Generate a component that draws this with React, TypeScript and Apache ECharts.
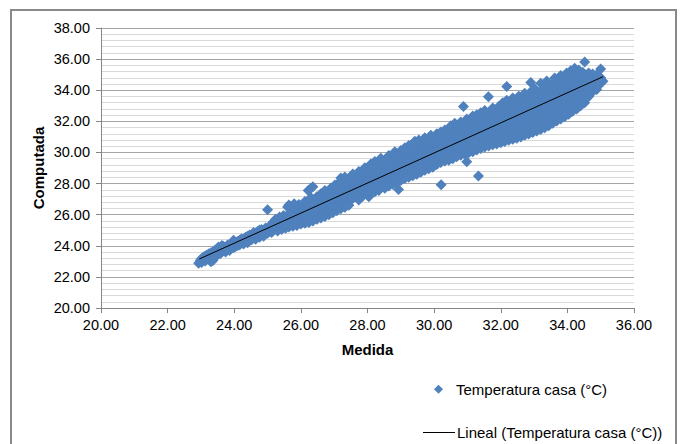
import { useEffect, useRef } from "react";
import * as echarts from "echarts";

const seriesName = "Temperatura casa (°C)";
const trendName = "Lineal (Temperatura casa (°C))";
const xTitle = "Medida";
const yTitle = "Computada";

// Each row: [Medida, Computada, Computada, ...]
const band1: number[][] = [
  [22.93, 22.88],
  [22.98, 23.05],
  [23.02, 22.92, 23.18],
  [23.08, 23.1, 23.28],
  [23.13, 23.02, 23.35],
  [23.18, 23.22, 23.4],
  [23.24, 23.15, 23.48],
  [23.3, 23.38, 23.55],
  [23.36, 23.05, 23.3, 23.62],
  [23.42, 23.45, 23.72],
  [23.48, 23.38, 23.8],
  [23.53, 23.55, 23.92],
  [23.58, 23.48, 23.7],
  [23.63, 23.62, 23.85, 24.02],
  [23.68, 23.74, 23.95],
  [23.74, 23.6, 23.88],
  [23.8, 23.82, 24.05],
  [23.86, 23.7, 23.98],
  [23.92, 23.9, 24.12],
  [23.98, 23.88, 24.05, 24.35],
  [24.04, 23.95, 24.2],
  [24.1, 24.02, 24.28],
  [24.16, 24.05, 24.35],
  [24.22, 24.22, 24.45],
  [24.28, 24.12, 24.4],
  [24.34, 24.3, 24.55],
  [24.4, 24.2, 24.62],
  [24.46, 24.48, 24.7],
  [24.52, 24.38, 24.62],
  [24.58, 24.55, 24.85],
  [24.64, 24.42, 24.78],
  [24.7, 24.62, 24.92],
  [24.76, 24.55, 24.88, 25.02],
  [24.82, 24.75, 25.05],
  [24.88, 24.62, 24.98],
  [24.94, 24.85, 25.15],
  [25.0, 24.8, 25.08],
  [25.06, 24.95, 25.25],
  [25.12, 24.85, 25.1, 25.4],
];

const band2: number[][] = [
  [25.18, 25.0, 25.3, 25.55],
  [25.24, 25.18, 25.45, 25.7],
  [25.3, 24.95, 25.25, 25.55],
  [25.36, 25.2, 25.5, 25.85],
  [25.42, 25.05, 25.32, 25.62],
  [25.48, 25.28, 25.58, 25.95],
  [25.54, 25.12, 25.42, 25.72],
  [25.6, 25.35, 25.65, 25.98, 26.5],
  [25.64, 25.2, 25.5, 25.8, 26.62],
  [25.7, 25.45, 25.75, 26.1, 26.38],
  [25.76, 25.25, 25.55, 25.88, 26.2],
  [25.8, 26.7],
  [25.82, 25.5, 25.82, 26.15, 26.48],
  [25.88, 25.3, 25.62, 25.95, 26.28],
  [25.94, 25.58, 25.9, 26.22, 26.65],
  [26.0, 25.4, 25.72, 26.05, 26.38],
  [26.06, 25.65, 25.98, 26.3, 26.6],
  [26.12, 25.45, 25.78, 26.1, 26.45, 26.85],
  [26.18, 25.75, 26.08, 26.4, 26.7],
  [26.24, 25.5, 25.85, 26.18, 26.52],
  [26.3, 25.82, 26.15, 26.48, 26.8, 27.1],
  [26.36, 25.6, 25.95, 26.28, 26.62],
  [26.42, 25.9, 26.22, 26.55, 26.9],
  [26.48, 25.7, 26.05, 26.4, 26.75, 27.15],
  [26.54, 26.0, 26.35, 26.7, 27.02],
  [26.6, 25.78, 26.12, 26.48, 26.85, 27.35],
  [26.66, 26.1, 26.45, 26.8, 27.15],
  [26.72, 25.88, 26.22, 26.58, 26.95, 27.3, 27.55],
  [26.78, 26.22, 26.58, 26.92, 27.28],
  [26.84, 26.0, 26.35, 26.7, 27.05, 27.42],
  [26.9, 26.32, 26.68, 27.02, 27.38, 27.72],
  [26.96, 26.12, 26.48, 26.82, 27.18, 27.52],
  [27.02, 26.45, 26.8, 27.15, 27.5, 27.9],
  [27.08, 26.25, 26.6, 26.95, 27.3, 27.65],
  [27.14, 26.58, 26.92, 27.28, 27.62, 28.05],
  [27.2, 26.38, 26.72, 27.08, 27.45, 27.82, 28.35],
  [27.26, 26.7, 27.05, 27.4, 27.75, 28.1],
  [27.32, 26.48, 26.82, 27.18, 27.55, 27.92, 28.42],
  [27.38, 26.8, 27.15, 27.5, 27.85, 28.2],
  [27.44, 26.6, 26.95, 27.3, 27.68, 28.05, 28.3],
];

const band3: number[][] = [
  [27.5, 26.95, 27.3, 27.68, 28.05, 28.45],
  [27.56, 27.05, 27.42, 27.78, 28.12, 28.62],
  [27.62, 27.22, 27.55, 27.9, 28.2],
  [27.68, 27.15, 27.5, 27.85, 28.22],
  [27.74, 26.95, 27.3, 27.65, 28.0, 28.35, 28.78],
  [27.8, 27.35, 27.7, 28.05, 28.4],
  [27.86, 27.2, 27.55, 27.92, 28.28, 28.6],
  [27.92, 27.5, 27.85, 28.2, 28.55, 29.02],
  [27.98, 27.32, 27.68, 28.02, 28.4],
  [28.04, 27.15, 27.45, 27.8, 28.18, 28.55, 28.9],
  [28.1, 27.6, 27.95, 28.3, 28.65, 29.25],
  [28.16, 27.55, 27.92, 28.28, 28.65],
  [28.22, 27.48, 27.88, 28.22, 28.58, 28.98, 29.42],
  [28.28, 27.75, 28.1, 28.45, 28.8],
  [28.34, 27.55, 27.9, 28.28, 28.65, 29.05],
  [28.4, 27.82, 28.18, 28.55, 28.92, 29.3, 29.62],
  [28.46, 27.95, 28.3, 28.65, 29.0],
  [28.52, 27.7, 28.05, 28.42, 28.8, 29.18, 29.48],
  [28.58, 27.98, 28.35, 28.7, 29.05],
  [28.64, 27.85, 28.2, 28.55, 28.92, 29.3, 29.8],
  [28.7, 28.1, 28.45, 28.82, 29.2, 29.5],
  [28.76, 27.95, 28.3, 28.68, 29.05, 29.42],
  [28.82, 28.2, 28.55, 28.9, 29.28, 29.65, 30.05],
  [28.88, 28.05, 28.4, 28.78, 29.15, 29.48],
  [28.94, 28.35, 28.7, 29.08, 29.45, 29.85],
  [29.0, 28.2, 28.55, 28.92, 29.3, 29.68, 30.12],
  [29.06, 28.45, 28.82, 29.2, 29.55],
  [29.12, 28.32, 28.68, 29.05, 29.42, 29.8, 30.3],
  [29.18, 28.55, 28.9, 29.28, 29.65, 30.0],
  [29.24, 28.4, 28.78, 29.15, 29.52, 29.9, 30.45],
  [29.3, 28.68, 29.05, 29.42, 29.8, 30.15],
  [29.36, 28.5, 28.88, 29.25, 29.62, 30.0, 30.38],
  [29.42, 28.8, 29.15, 29.52, 29.9, 30.25, 30.72],
  [29.48, 28.6, 28.98, 29.35, 29.72, 30.1],
  [29.54, 28.9, 29.28, 29.65, 30.02, 30.4, 30.8],
  [29.6, 28.72, 29.1, 29.48, 29.85, 30.22],
  [29.66, 29.05, 29.42, 29.8, 30.18, 30.55],
  [29.72, 28.85, 29.22, 29.6, 29.98, 30.35, 30.95],
  [29.78, 29.15, 29.52, 29.9, 30.28, 30.62],
  [29.84, 28.95, 29.32, 29.7, 30.08, 30.45, 30.82],
  [29.9, 29.3, 29.68, 30.05, 30.42, 31.1],
  [29.96, 29.05, 29.42, 29.8, 30.18, 30.55, 30.9],
];

const band4: number[][] = [
  [30.02, 29.4, 29.78, 30.15, 30.52, 30.88],
  [30.08, 29.22, 29.6, 29.98, 30.35, 30.72, 31.2],
  [30.14, 29.55, 29.92, 30.3, 30.68, 31.0],
  [30.2, 29.35, 29.72, 30.1, 30.48, 30.85, 31.32],
  [30.26, 29.62, 30.0, 30.38, 30.75, 31.1],
  [30.32, 29.45, 29.82, 30.2, 30.58, 30.95, 31.45],
  [30.38, 29.75, 30.12, 30.5, 30.88, 31.22],
  [30.44, 29.5, 29.88, 30.25, 30.62, 31.0, 31.38],
  [30.5, 29.8, 30.18, 30.55, 30.92, 31.3, 31.72],
  [30.56, 29.6, 29.98, 30.35, 30.72, 31.1],
  [30.62, 29.92, 30.3, 30.68, 31.05, 31.42, 31.88],
  [30.68, 29.72, 30.1, 30.48, 30.85, 31.22, 31.55],
  [30.74, 30.05, 30.42, 30.8, 31.18, 31.55],
  [30.8, 29.82, 30.2, 30.58, 30.95, 31.32, 31.95],
  [30.86, 30.12, 30.5, 30.88, 31.25, 31.62],
  [30.92, 29.9, 30.28, 30.65, 31.02, 31.4, 31.8],
  [30.98, 30.22, 30.6, 30.98, 31.35, 31.72, 32.15],
  [31.04, 29.98, 30.35, 30.72, 31.1, 31.48],
  [31.1, 30.3, 30.68, 31.05, 31.42, 31.8, 32.05],
  [31.16, 30.05, 30.42, 30.8, 31.18, 31.55, 32.35],
  [31.22, 30.4, 30.78, 31.15, 31.52, 31.9],
  [31.28, 30.15, 30.52, 30.9, 31.28, 31.65, 32.02, 32.42],
  [31.34, 30.5, 30.88, 31.25, 31.62, 32.0],
  [31.4, 30.25, 30.62, 31.0, 31.38, 31.75, 32.12, 32.55],
  [31.46, 30.58, 30.95, 31.32, 31.7, 32.08],
  [31.52, 30.35, 30.72, 31.1, 31.48, 31.85, 32.25, 32.7],
  [31.58, 30.65, 31.02, 31.4, 31.78, 32.15, 32.4],
  [31.64, 30.42, 30.8, 31.18, 31.55, 31.92, 32.3],
  [31.7, 30.72, 31.1, 31.48, 31.85, 32.22, 32.65],
  [31.76, 30.5, 30.88, 31.25, 31.62, 32.0, 32.38, 32.85],
  [31.82, 30.8, 31.18, 31.55, 31.92, 32.3],
  [31.88, 30.55, 30.92, 31.3, 31.68, 32.05, 32.45, 32.78],
  [31.94, 30.88, 31.25, 31.62, 32.0, 32.38, 32.95],
  [32.0, 30.62, 31.0, 31.38, 31.75, 32.12, 32.5],
  [32.06, 30.95, 31.32, 31.7, 32.08, 32.45, 32.85, 33.2],
  [32.12, 30.7, 31.08, 31.45, 31.82, 32.2, 32.6],
  [32.18, 31.02, 31.4, 31.78, 32.15, 32.52, 32.92, 33.35],
  [32.24, 30.78, 31.15, 31.52, 31.9, 32.28, 32.68, 33.05],
  [32.3, 31.1, 31.48, 31.85, 32.22, 32.6, 33.0],
  [32.36, 30.85, 31.22, 31.6, 31.98, 32.35, 32.75, 33.5],
  [32.42, 31.18, 31.55, 31.92, 32.3, 32.68, 33.1],
  [32.48, 30.92, 31.3, 31.68, 32.05, 32.42, 32.82, 33.28],
];

const band5: number[][] = [
  [32.54, 31.25, 31.62, 32.0, 32.38, 32.75, 33.15, 33.62],
  [32.6, 31.0, 31.38, 31.75, 32.12, 32.5, 32.9],
  [32.66, 31.32, 31.7, 32.08, 32.45, 32.82, 33.22, 33.48],
  [32.72, 31.1, 31.48, 31.85, 32.22, 32.6, 33.0, 33.8],
  [32.78, 31.42, 31.8, 32.18, 32.55, 32.92, 33.35],
  [32.84, 31.18, 31.55, 31.92, 32.3, 32.68, 33.08, 33.58],
  [32.9, 31.5, 31.88, 32.25, 32.62, 33.0, 33.42, 33.9],
  [32.96, 31.28, 31.65, 32.02, 32.4, 32.78, 33.18],
  [33.02, 31.6, 31.98, 32.35, 32.72, 33.1, 33.52, 34.1],
  [33.08, 31.38, 31.75, 32.12, 32.5, 32.88, 33.28, 33.72],
  [33.14, 31.7, 32.08, 32.45, 32.82, 33.2, 33.62],
  [33.2, 31.48, 31.85, 32.22, 32.6, 32.98, 33.38, 33.95, 34.45],
  [33.26, 31.8, 32.18, 32.55, 32.92, 33.3, 33.72],
  [33.32, 31.58, 31.95, 32.32, 32.7, 33.08, 33.48, 34.1],
  [33.38, 31.9, 32.28, 32.65, 33.02, 33.4, 33.82, 34.6],
  [33.44, 31.72, 32.1, 32.48, 32.85, 33.22, 33.6, 34.25],
  [33.5, 32.05, 32.42, 32.8, 33.18, 33.55, 33.95],
  [33.56, 31.88, 32.25, 32.62, 33.0, 33.38, 33.75, 34.45],
  [33.62, 32.2, 32.58, 32.95, 33.32, 33.7, 34.1, 34.78],
  [33.68, 32.02, 32.4, 32.78, 33.15, 33.52, 33.9, 34.32],
  [33.74, 32.35, 32.72, 33.1, 33.48, 33.85, 34.25],
  [33.8, 32.15, 32.52, 32.9, 33.28, 33.65, 34.05, 34.62, 34.95],
  [33.86, 32.5, 32.88, 33.25, 33.62, 34.0, 34.4],
  [33.92, 32.3, 32.68, 33.05, 33.42, 33.8, 34.2, 34.8],
  [33.98, 32.62, 33.0, 33.38, 33.75, 34.12, 34.55, 35.1],
  [34.04, 32.45, 32.82, 33.2, 33.58, 33.95, 34.35],
  [34.1, 32.78, 33.15, 33.52, 33.9, 34.28, 34.7, 35.25],
  [34.16, 32.65, 33.02, 33.4, 33.78, 34.15, 34.52, 34.95],
  [34.22, 32.95, 33.32, 33.7, 34.08, 34.45, 34.88, 35.42],
  [34.28, 32.8, 33.18, 33.55, 33.92, 34.3, 34.68, 35.1],
  [34.34, 33.1, 33.48, 33.85, 34.22, 34.6, 35.0, 35.3],
  [34.4, 33.0, 33.35, 33.72, 34.1, 34.48, 34.85],
  [34.46, 33.3, 33.68, 34.05, 34.42, 34.8, 35.15],
  [34.52, 33.2, 33.58, 33.95, 34.32, 34.7, 35.0],
  [34.58, 33.48, 33.85, 34.22, 34.6, 34.98],
  [34.64, 33.6, 33.98, 34.35, 34.72, 35.1],
  [34.7, 33.78, 34.15, 34.52, 34.9],
  [34.76, 33.95, 34.32, 34.68, 35.05],
  [34.82, 34.12, 34.48, 34.82],
  [34.88, 34.05, 34.38, 34.72, 35.0],
  [34.94, 34.3, 34.62, 34.9],
  [35.0, 34.5, 34.8],
];

// Isolated points away from the main band: [Medida, Computada]
const outliers: number[][] = [
  [23.3, 22.98],
  [25.0, 26.32],
  [26.22, 27.55],
  [26.3, 27.7],
  [26.36, 27.8],
  [28.93, 27.61],
  [30.21, 27.92],
  [30.98, 29.4],
  [30.88, 32.96],
  [31.33, 28.48],
  [31.63, 33.58],
  [32.18, 34.24],
  [32.9, 34.5],
  [34.52, 35.82],
  [35.0, 35.36],
  [35.07, 34.58],
];

// Excel linear trendline end points
const trendline: number[][] = [
  [22.95, 23.15],
  [35.07, 34.87],
];

const toPairs = (rows: number[][]) =>
  rows.flatMap(([x, ...ys]) => ys.map((y) => [x, y]));

export default function App() {
  const ref = useRef<HTMLDivElement>(null);

  useEffect(() => {
    document.body.style.margin = "0";
    if (!ref.current) return;
    const chart = echarts.init(ref.current, undefined, { renderer: "svg" });
    const font = "'Liberation Sans', Arial, sans-serif";
    const points = [
      ...toPairs(band1),
      ...toPairs(band2),
      ...toPairs(band3),
      ...toPairs(band4),
      ...toPairs(band5),
      ...outliers,
    ];
    chart.setOption({
      animation: false,
      backgroundColor: "#ffffff",
      grid: { left: 101, top: 28, width: 533, height: 280, containLabel: false },
      xAxis: {
        type: "value",
        min: 20,
        max: 36,
        interval: 2,
        axisLine: { show: true, lineStyle: { color: "#868686", width: 1 } },
        axisTick: { show: true, length: 5, lineStyle: { color: "#868686" } },
        axisLabel: {
          margin: 9,
          color: "#000",
          fontSize: 14.5,
          fontFamily: font,
          formatter: (v: number) => v.toFixed(2),
        },
        splitLine: { show: false },
      },
      yAxis: {
        type: "value",
        min: 20,
        max: 38,
        interval: 2,
        axisLine: { show: true, lineStyle: { color: "#868686", width: 1 } },
        axisTick: { show: true, length: 5, lineStyle: { color: "#868686" } },
        axisLabel: {
          margin: 11,
          color: "#000",
          fontSize: 14.5,
          fontFamily: font,
          formatter: (v: number) => v.toFixed(2),
        },
        splitLine: { show: true, lineStyle: { color: "#a6a6a6", width: 1 } },
        minorTick: { show: false, splitNumber: 5 },
        minorSplitLine: { show: true, lineStyle: { color: "#d9d9d9", width: 1 } },
      },
      series: [
        {
          name: seriesName,
          type: "scatter",
          data: points,
          symbol: "diamond",
          symbolSize: 11,
          itemStyle: { color: "#4F81BD", opacity: 1 },
          emphasis: { disabled: true },
        },
        {
          name: trendName,
          type: "line",
          data: trendline,
          symbol: "none",
          lineStyle: { color: "#000000", width: 1 },
          emphasis: { disabled: true },
        },
      ],
      graphic: [
        {
          type: "rect",
          shape: { x: 11, y: 10, width: 665, height: 460 },
          style: { fill: "none", stroke: "#898989", lineWidth: 2 },
          silent: true,
        },
        {
          type: "text",
          x: 38,
          y: 168,
          rotation: Math.PI / 2,
          style: {
            text: yTitle,
            fontSize: 15,
            fontWeight: "bold",
            fontFamily: font,
            fill: "#000",
            align: "center",
            verticalAlign: "middle",
          },
        },
        {
          type: "text",
          x: 367.5,
          y: 349,
          style: {
            text: xTitle,
            fontSize: 15,
            fontWeight: "bold",
            fontFamily: font,
            fill: "#000",
            align: "center",
            verticalAlign: "middle",
          },
        },
        {
          type: "polygon",
          shape: {
            points: [
              [438.5, 384.8],
              [443, 389.3],
              [438.5, 393.8],
              [434, 389.3],
            ],
          },
          style: { fill: "#4F81BD" },
        },
        {
          type: "text",
          x: 456,
          y: 389.5,
          style: {
            text: seriesName,
            fontSize: 15,
            fontFamily: font,
            fill: "#000",
            align: "left",
            verticalAlign: "middle",
          },
        },
        {
          type: "line",
          shape: { x1: 423, y1: 432.5, x2: 455, y2: 432.5 },
          style: { stroke: "#000", lineWidth: 1 },
        },
        {
          type: "text",
          x: 457,
          y: 432.5,
          style: {
            text: trendName,
            fontSize: 15,
            fontFamily: font,
            fill: "#000",
            align: "left",
            verticalAlign: "middle",
          },
        },
      ],
    });
    return () => chart.dispose();
  }, []);

  return <div ref={ref} style={{ width: 680, height: 444 }} />;
}
